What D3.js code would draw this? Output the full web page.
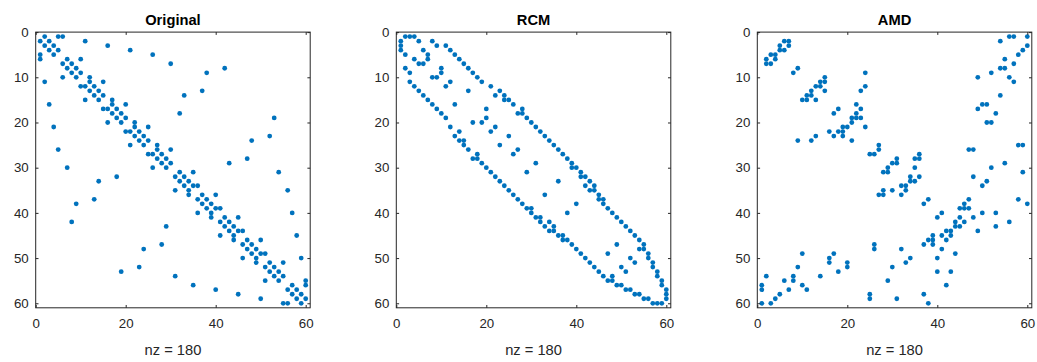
<!DOCTYPE html>
<html>
<head>
<meta charset="utf-8">
<script src="https://cdn.jsdelivr.net/npm/d3@7"></script>
<style>
  body { margin: 0; background: #fff; }
  svg { display: block; font-family: "Liberation Sans", Arial, Helvetica, sans-serif; }
</style>
</head>
<body>
<svg id="chart" width="1037" height="362"></svg>
<script>
// sparsity patterns (row, col) with row < col, each drawn mirrored
const titles = ["Original", "RCM", "AMD"];
const xTicks = [0, 20, 40, 60];
const yTicks = [0, 10, 20, 30, 40, 50, 60];
const nzLabel = "nz = 180";

const originalEdges = [
  [1,2],[2,3],[3,4],[4,5],[1,5],[6,7],[7,8],[8,9],[9,10],[6,10],
  [11,12],[12,13],[13,14],[14,15],[11,15],[16,17],[17,18],[18,19],[19,20],[16,20],
  [21,22],[22,23],[23,24],[24,25],[21,25],[26,27],[27,28],[28,29],[29,30],[26,30],
  [31,32],[32,33],[33,34],[34,35],[31,35],[36,37],[37,38],[38,39],[39,40],[36,40],
  [41,42],[42,43],[43,44],[44,45],[41,45],[46,47],[47,48],[48,49],[49,50],[46,50],
  [51,52],[52,53],[53,54],[54,55],[51,55],[56,57],[57,58],[58,59],[59,60],[56,60],
  [1,6],[2,11],[3,16],[4,21],[5,26],[7,30],[8,42],[9,38],[10,12],[13,37],
  [14,33],[15,17],[18,32],[19,53],[20,22],[23,52],[24,48],[25,27],[28,47],[29,43],
  [31,54],[34,36],[35,56],[39,41],[40,57],[44,46],[45,58],[49,51],[50,59],[55,60]
];

const rcmEdges = [
  [1,2],[1,3],[1,4],[2,5],[2,8],[3,9],[3,11],[4,6],[4,12],[5,7],
  [5,13],[6,7],[6,14],[7,15],[8,10],[8,16],[9,10],[9,17],[10,18],[11,12],
  [11,19],[12,21],[13,16],[13,23],[14,22],[14,24],[15,24],[15,25],[16,26],[17,20],
  [17,28],[18,27],[18,28],[19,20],[19,29],[20,30],[21,22],[21,31],[22,32],[23,25],
  [23,33],[24,34],[25,35],[26,27],[26,36],[27,37],[28,38],[29,31],[29,39],[30,39],
  [30,40],[31,41],[32,41],[32,42],[33,36],[33,43],[34,42],[34,44],[35,43],[35,44],
  [36,45],[37,45],[37,46],[38,40],[38,46],[39,47],[40,48],[41,49],[42,50],[43,51],
  [44,52],[45,53],[46,54],[47,49],[47,55],[48,54],[48,55],[49,56],[50,52],[50,56],
  [51,53],[51,57],[52,57],[53,58],[54,58],[55,59],[56,59],[57,60],[58,60],[59,60]
];

const amdEdges = [
  [1,56],[1,57],[1,60],[2,6],[2,7],[2,54],[3,5],[3,7],[3,60],[4,5],
  [4,6],[4,59],[5,58],[6,55],[7,57],[8,9],[8,54],[8,55],[9,24],[9,52],
  [10,15],[10,49],[10,56],[11,14],[11,15],[11,57],[12,13],[12,14],[12,24],[13,15],
  [13,23],[14,54],[16,22],[16,50],[16,51],[17,18],[17,23],[17,49],[18,22],[18,53],
  [19,21],[19,22],[19,23],[20,21],[20,51],[20,52],[21,24],[25,27],[25,58],[25,59],
  [26,27],[26,47],[26,48],[27,36],[28,31],[28,35],[28,36],[29,30],[29,31],[29,55],
  [30,35],[30,52],[31,59],[32,34],[32,36],[32,48],[33,34],[33,35],[33,51],[34,50],
  [37,38],[37,47],[37,58],[38,46],[38,60],[39,45],[39,46],[39,47],[40,41],[40,50],
  [40,53],[41,45],[41,48],[42,44],[42,46],[42,56],[43,44],[43,45],[43,53],[44,49]
];

const panels = [originalEdges, rcmEdges, amdEdges];
const panelLeft = [35.7, 396.3, 757.3];
const plotTop = 32.1, plotW = 274.5, plotH = 275.7;
const axisColor = "#262626";
const dotColor = "#0072BD";

const svg = d3.select("#chart");

panels.forEach((edges, k) => {
  const left = panelLeft[k];
  const x = d3.scaleLinear().domain([0, 61]).range([left, left + plotW]);
  const y = d3.scaleLinear().domain([0, 61]).range([plotTop, plotTop + plotH]);

  const g = svg.append("g");

  // both triangles of the symmetric pattern
  const pts = [];
  edges.forEach(([i, j]) => {
    pts.push({r: i, c: j});
    pts.push({r: j, c: i});
  });

  g.append("g")
    .selectAll("circle")
    .data(pts)
    .join("circle")
    .attr("cx", d => x(d.c))
    .attr("cy", d => y(d.r))
    .attr("r", 2.4)
    .attr("fill", dotColor);

  const styleAxis = sel => {
    sel.select(".domain").remove();
    sel.selectAll("line").attr("stroke", axisColor);
    sel.selectAll("text")
      .attr("fill", axisColor)
      .style("font-size", "13.3px")
      .style("font-family", '"Liberation Sans", Arial, sans-serif');
  };

  g.append("g")
    .attr("transform", `translate(0,${plotTop + plotH})`)
    .call(d3.axisBottom(x).tickValues(xTicks).tickSizeInner(-2.8).tickSizeOuter(0).tickPadding(10.5))
    .call(styleAxis);
  g.append("g")
    .attr("transform", `translate(0,${plotTop})`)
    .call(d3.axisTop(x).tickValues(xTicks).tickSizeInner(-2.8).tickSizeOuter(0).tickFormat(""))
    .call(styleAxis);
  g.append("g")
    .attr("transform", `translate(${left},0)`)
    .call(d3.axisLeft(y).tickValues(yTicks).tickSizeInner(-2.8).tickSizeOuter(0).tickPadding(7))
    .call(styleAxis);
  g.append("g")
    .attr("transform", `translate(${left + plotW},0)`)
    .call(d3.axisRight(y).tickValues(yTicks).tickSizeInner(-2.8).tickSizeOuter(0).tickFormat(""))
    .call(styleAxis);

  g.append("rect")
    .attr("x", left).attr("y", plotTop)
    .attr("width", plotW).attr("height", plotH)
    .attr("fill", "none")
    .attr("stroke", axisColor)
    .attr("stroke-width", 1);

  g.append("text")
    .attr("x", left + plotW / 2).attr("y", 24.5)
    .attr("text-anchor", "middle")
    .attr("fill", "#000")
    .style("font-size", "14.7px")
    .style("font-weight", "bold")
    .text(titles[k]);

  g.append("text")
    .attr("x", left + plotW / 2).attr("y", 355)
    .attr("text-anchor", "middle")
    .attr("fill", axisColor)
    .style("font-size", "14.7px")
    .text(nzLabel);
});
</script>
</body>
</html>
